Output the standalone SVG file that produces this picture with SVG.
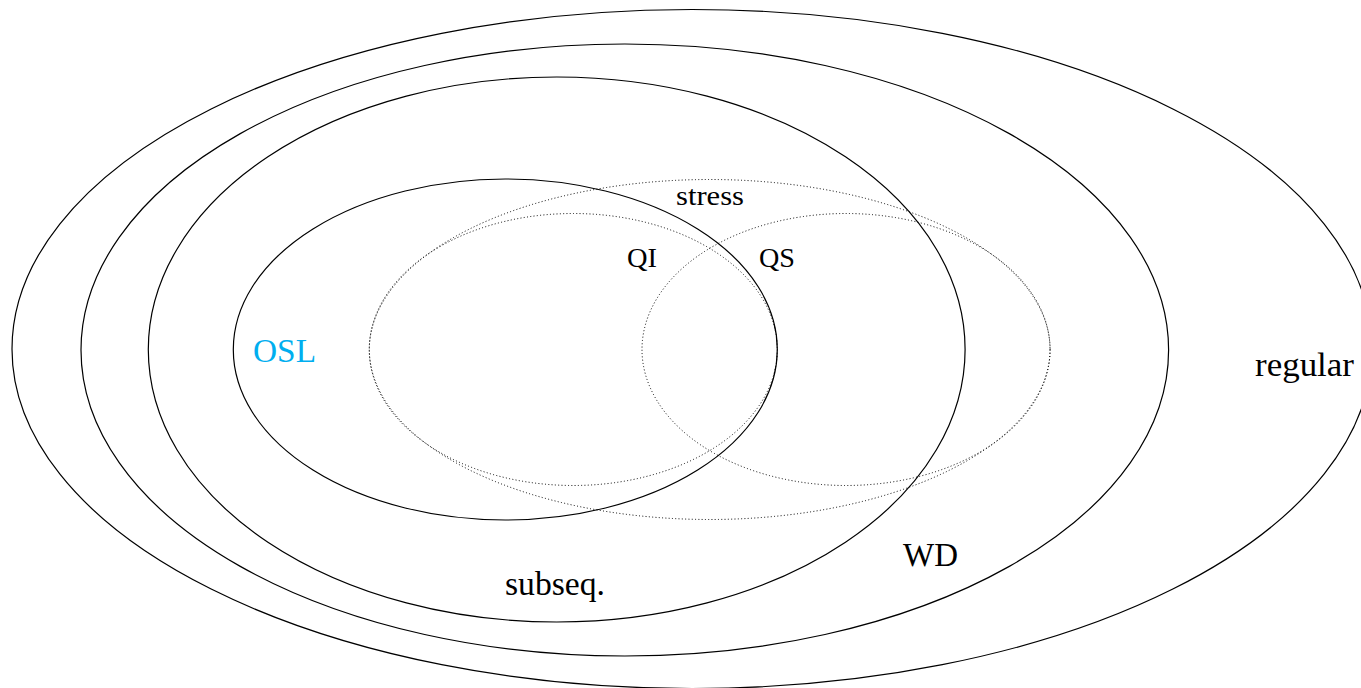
<svg xmlns="http://www.w3.org/2000/svg" width="1361" height="688" viewBox="0 0 1361 688">
  <style>
    .solid { fill: none; stroke: #000; stroke-width: 1.2; }
    .dotted { fill: none; stroke: #000; stroke-width: 1; stroke-dasharray: 1 2.3; }
    .lbl { font-family: "Liberation Serif", "DejaVu Serif", serif; fill: #000; }
    .big { font-size: 33px; }
    .small { font-size: 27px; }
  </style>
  <rect width="1361" height="688" fill="#fff"/>

  <!-- language classes as nested regions -->
  <g id="regular">
    <ellipse class="solid" cx="692" cy="349" rx="680" ry="339.5"/>
    <text class="lbl big" x="1255" y="376" textLength="99" lengthAdjust="spacingAndGlyphs">regular</text>
  </g>
  <g id="wd">
    <ellipse class="solid" cx="624.8" cy="350" rx="543.8" ry="306"/>
    <text class="lbl big" x="903" y="566" textLength="55" lengthAdjust="spacingAndGlyphs">WD</text>
  </g>
  <g id="subseq">
    <ellipse class="solid" cx="556.7" cy="349.5" rx="408.4" ry="272.5"/>
    <text class="lbl big" x="505" y="595" textLength="100" lengthAdjust="spacingAndGlyphs">subseq.</text>
  </g>
  <g id="osl">
    <ellipse class="solid" cx="505.3" cy="349.5" rx="272" ry="170.5"/>
    <text class="lbl big" x="253" y="362" textLength="63" lengthAdjust="spacingAndGlyphs" style="fill:#00AEEF">OSL</text>
  </g>

  <!-- stress patterns (dotted) -->
  <g id="stress">
    <ellipse class="dotted" cx="709.7" cy="349.5" rx="340.4" ry="170"/>
    <text class="lbl small" x="676" y="205" textLength="68" lengthAdjust="spacingAndGlyphs">stress</text>
  </g>
  <g id="qi">
    <ellipse class="dotted" cx="573.3" cy="349.5" rx="204" ry="136"/>
    <text class="lbl small" x="627" y="267" textLength="30" lengthAdjust="spacingAndGlyphs">QI</text>
  </g>
  <g id="qs">
    <ellipse class="dotted" cx="846" cy="349.5" rx="204" ry="136"/>
    <text class="lbl small" x="759" y="267" textLength="36" lengthAdjust="spacingAndGlyphs">QS</text>
  </g>

  <g id="connectors"/>
</svg>
